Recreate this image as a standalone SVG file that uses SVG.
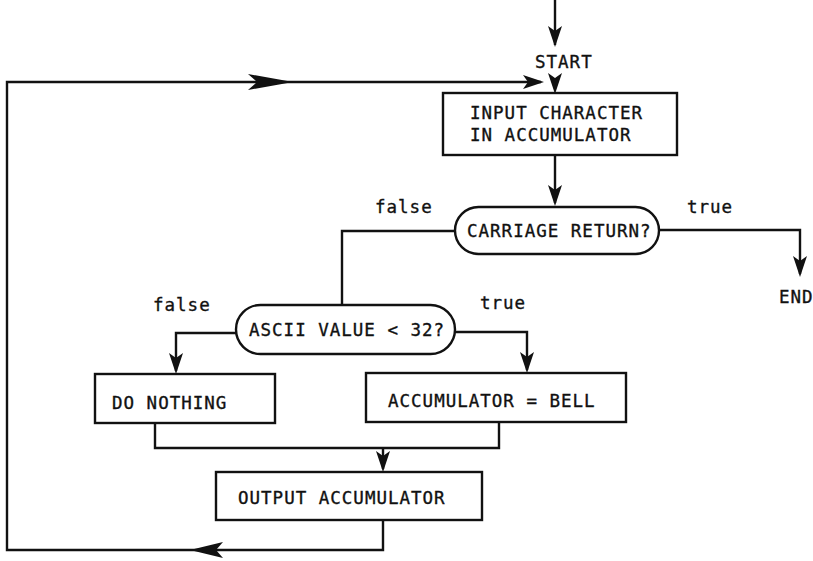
<svg xmlns="http://www.w3.org/2000/svg" xmlns:xlink="http://www.w3.org/1999/xlink" width="813" height="561" viewBox="0 0 813 561">
  <style>
    .box { fill: #fff; stroke: #111; stroke-width: 2.4; }
    .wire { fill: none; stroke: #111; stroke-width: 2.4; stroke-linejoin: miter; }
    .head { fill: #111; stroke: none; }
    .t { font-family: "DejaVu Sans Mono", "Liberation Mono", monospace; font-size: 17.5px; letter-spacing: 1px; fill: #111; stroke: #111; stroke-width: 0.35; }
  </style>
  <defs>
    <!-- arrowheads, tip at origin pointing down (+y) -->
    <path id="ah" class="head" d="M0,0 L-7,-21 L0,-16 L7,-21 Z"/>
    <path id="ahLong" class="head" d="M0,0 L-8,-45 L0,-36 L8,-45 Z"/>
    <path id="ahMid" class="head" d="M0,0 L-8,-33 L0,-26 L8,-33 Z"/>
  </defs>

  <rect width="813" height="561" fill="#fff"/>

  <g id="connectors">
    <path class="wire" d="M555,0 V45"/>
    <use href="#ah" transform="translate(555,47)"/>
    <use href="#ah" transform="translate(555,94)"/>
    <!-- loop back to the input step -->
    <path class="wire" d="M383,520 V550 H7 V82 H541"/>
    <use href="#ahMid" transform="translate(190,550) rotate(90)"/>
    <use href="#ahLong" transform="translate(293,82) rotate(-90)"/>
    <use href="#ah" transform="translate(544,82) rotate(-90)"/>
    <path class="wire" d="M555,155 V203"/>
    <use href="#ah" transform="translate(555,206)"/>
    <!-- carriage return: true -->
    <path class="wire" d="M659,230 H800 V274"/>
    <use href="#ah" transform="translate(800,277)"/>
    <!-- carriage return: false -->
    <path class="wire" d="M455,231 H342 V305"/>
    <!-- ascii test branches -->
    <path class="wire" d="M236,333 H176 V371"/>
    <use href="#ah" transform="translate(176,374)"/>
    <path class="wire" d="M455,332 H527 V370"/>
    <use href="#ah" transform="translate(527,373)"/>
    <!-- join -->
    <path class="wire" d="M155,423 V448 H499 V422"/>
    <path class="wire" d="M383,448 V469"/>
    <use href="#ah" transform="translate(383,472)"/>
  </g>

  <g id="start">
    <text class="t" x="535" y="68">START</text>
  </g>

  <g id="input-character">
    <rect class="box" x="443" y="93" width="234" height="62"/>
    <text class="t" x="470" y="119">INPUT CHARACTER</text>
    <text class="t" x="470" y="141">IN ACCUMULATOR</text>
  </g>

  <g id="carriage-return">
    <rect class="box" x="455" y="207" width="204" height="47" rx="23.5"/>
    <text class="t" x="467" y="237">CARRIAGE RETURN?</text>
  </g>

  <g id="labels">
    <text class="t" x="375" y="213">false</text>
    <text class="t" x="687" y="213">true</text>
    <text class="t" x="153" y="311">false</text>
    <text class="t" x="480" y="309">true</text>
  </g>

  <g id="end">
    <text class="t" x="779" y="303">END</text>
  </g>

  <g id="ascii-test">
    <rect class="box" x="236" y="305" width="219" height="49" rx="24.5"/>
    <text class="t" x="249" y="336">ASCII VALUE &lt; 32?</text>
  </g>

  <g id="do-nothing">
    <rect class="box" x="95" y="374" width="180" height="49"/>
    <text class="t" x="112" y="409">DO NOTHING</text>
  </g>

  <g id="bell">
    <rect class="box" x="366" y="373" width="260" height="49"/>
    <text class="t" x="388" y="407">ACCUMULATOR = BELL</text>
  </g>

  <g id="output">
    <rect class="box" x="216" y="472" width="266" height="48"/>
    <text class="t" x="238" y="504">OUTPUT ACCUMULATOR</text>
  </g>
</svg>
